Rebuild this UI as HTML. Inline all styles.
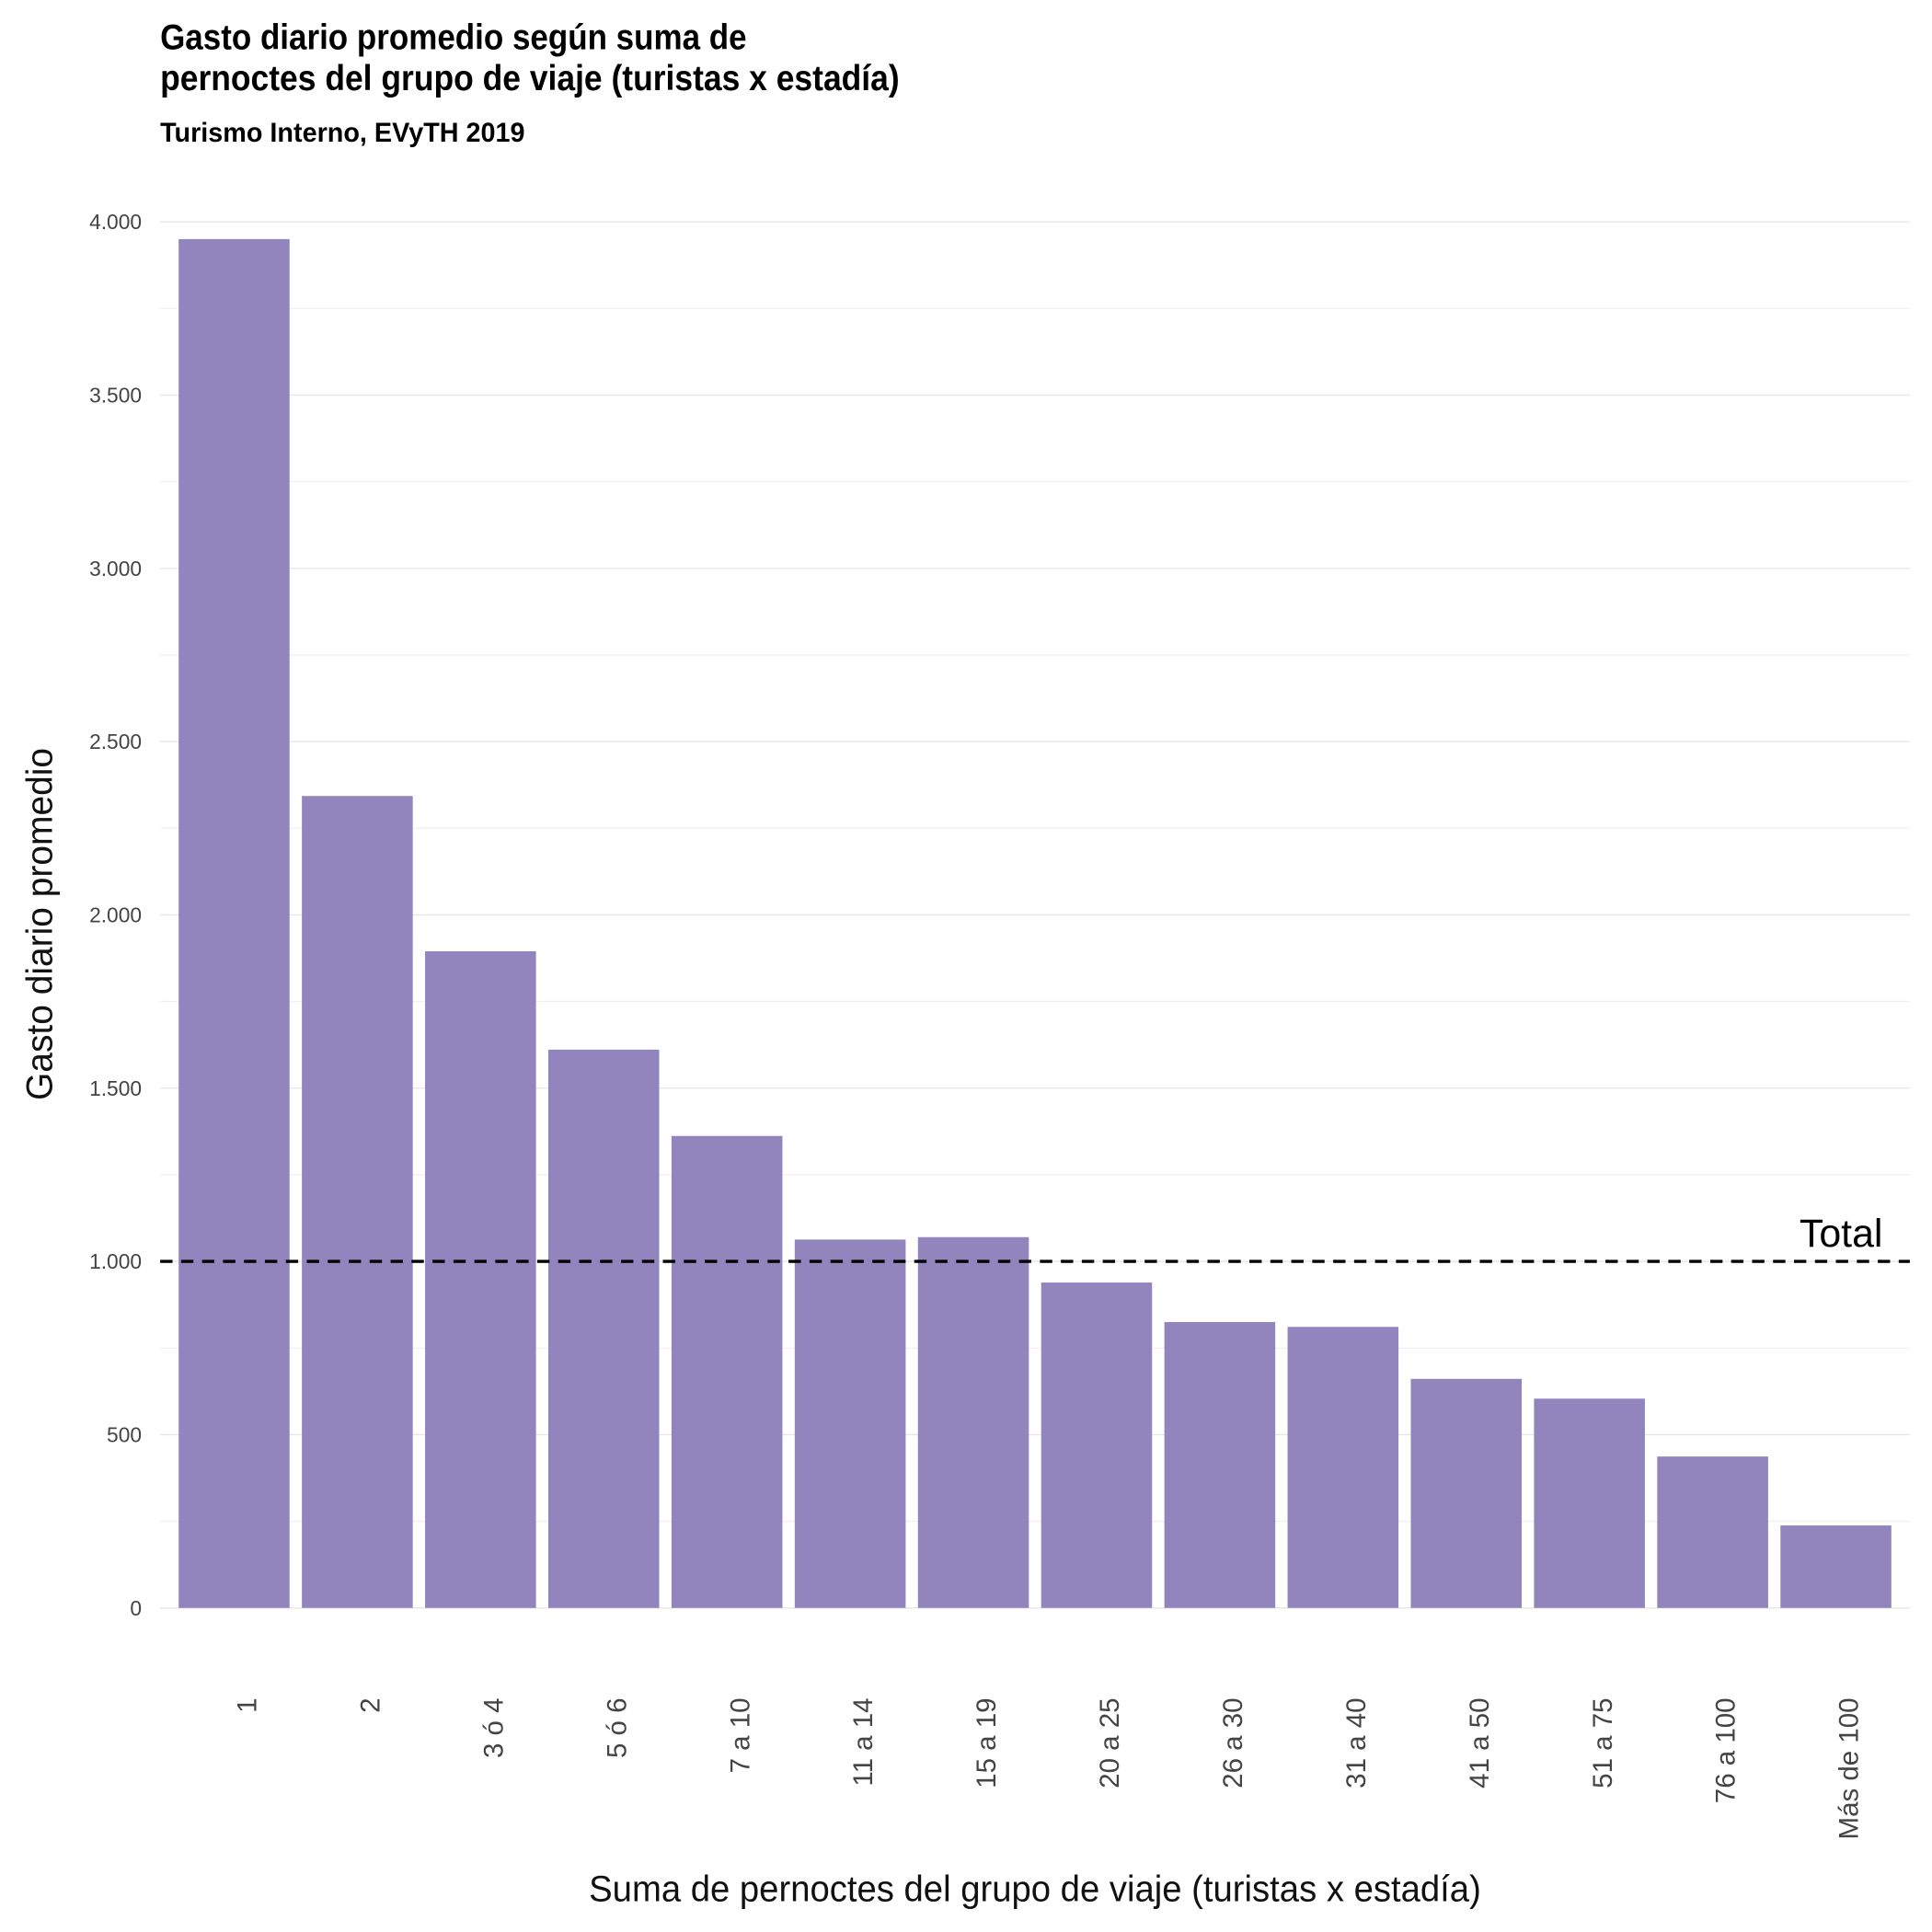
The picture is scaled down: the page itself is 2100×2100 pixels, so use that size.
<!DOCTYPE html>
<html><head><meta charset="utf-8"><style>
html,body{margin:0;padding:0;background:#fff}
svg{display:block}
text{font-family:"Liberation Sans Narrow","Liberation Sans",sans-serif}
</style></head><body>
<svg id="chart" width="2100" height="2100" viewBox="0 0 1568 1568" xmlns="http://www.w3.org/2000/svg">
<text x="130" y="40" font-size="29" font-weight="bold" textLength="476" lengthAdjust="spacingAndGlyphs">Gasto diario promedio según suma de</text>
<text x="130" y="73" font-size="29" font-weight="bold" textLength="600" lengthAdjust="spacingAndGlyphs">pernoctes del grupo de viaje (turistas x estadía)</text>
<text x="130" y="115" font-size="22" font-weight="bold" textLength="296" lengthAdjust="spacingAndGlyphs">Turismo Interno, EVyTH 2019</text>
<g id="grid"></g>
<g id="bars"></g>
<g id="yticks"></g>
<g id="xticks"></g>
<g id="ref"></g>
<text transform="translate(42,750) rotate(-90)" text-anchor="middle" font-size="30" fill="#111" textLength="286" lengthAdjust="spacingAndGlyphs">Gasto diario promedio</text>
<text x="840" y="1543" text-anchor="middle" font-size="30" fill="#111" textLength="724" lengthAdjust="spacingAndGlyphs">Suma de pernoctes del grupo de viaje (turistas x estadía)</text>
</svg>
<script>
const categories=["1","2","3 ó 4","5 ó 6","7 a 10","11 a 14","15 a 19","20 a 25","26 a 30","31 a 40","41 a 50","51 a 75","76 a 100","Más de 100"];
const values=[3950,2343,1895,1611,1362,1063,1070,939,825,811,661,604,437,238];
const yTicks=[0,500,1000,1500,2000,2500,3000,3500,4000];
const yTickLabels=["0","500","1.000","1.500","2.000","2.500","3.000","3.500","4.000"];
const totalValue=1000;
const NS="http://www.w3.org/2000/svg";
const y0=1305,y1=180,yMax=4000;
function y(v){return y0-(v/yMax)*(y0-y1);}
const x0=140,step=100,bw=90;
function xc(i){return x0+step*i+step/2;}
const grid=document.getElementById('grid');
for(let v=0;v<=4000;v+=250){
  const l=document.createElementNS(NS,'line');
  
  
  l.setAttribute('x1',130);l.setAttribute('x2',1550);
  l.setAttribute('y1',y(v));l.setAttribute('y2',y(v));
  l.setAttribute('stroke',v%500===0?'#e6e6e6':'#f0f0f0');l.setAttribute('stroke-width',1);
  grid.appendChild(l);
}
const yt=document.getElementById('yticks');
yTicks.forEach((v,i)=>{
  const t=document.createElementNS(NS,'text');
  
  
  t.setAttribute('x',115);t.setAttribute('y',y(v)+6);
  t.setAttribute('text-anchor','end');t.setAttribute('font-size','17');t.setAttribute('fill','#444');
  t.textContent=yTickLabels[i];yt.appendChild(t);
});
const bars=document.getElementById('bars');
const xt=document.getElementById('xticks');
values.forEach((v,i)=>{
  const r=document.createElementNS(NS,'rect');
  
  
  r.setAttribute('x',xc(i)-bw/2);r.setAttribute('width',bw);
  r.setAttribute('y',y(v));r.setAttribute('height',y0-y(v));
  r.setAttribute('fill','#9284bd');
  bars.appendChild(r);
  const t=document.createElementNS(NS,'text');
  
  
  t.setAttribute('transform','translate('+(xc(i)+18)+',1378) rotate(-90)');
  t.setAttribute('text-anchor','end');t.setAttribute('font-size','22');t.setAttribute('fill','#444');
  t.textContent=categories[i];xt.appendChild(t);
});
const ref=document.getElementById('ref');
const dl=document.createElementNS(NS,'line');


dl.setAttribute('x1',130);dl.setAttribute('x2',1550);
dl.setAttribute('y1',y(totalValue));dl.setAttribute('y2',y(totalValue));
dl.setAttribute('stroke','#000');dl.setAttribute('stroke-width',2.5);dl.setAttribute('stroke-dasharray','10 7');
ref.appendChild(dl);
const tl=document.createElementNS(NS,'text');


tl.setAttribute('x',1528);tl.setAttribute('y',y(totalValue)-12);
tl.setAttribute('text-anchor','end');tl.setAttribute('font-size','32');
tl.setAttribute('style','font-family:"Liberation Sans",sans-serif');
tl.textContent='Total';ref.appendChild(tl);
</script>
</body></html>
